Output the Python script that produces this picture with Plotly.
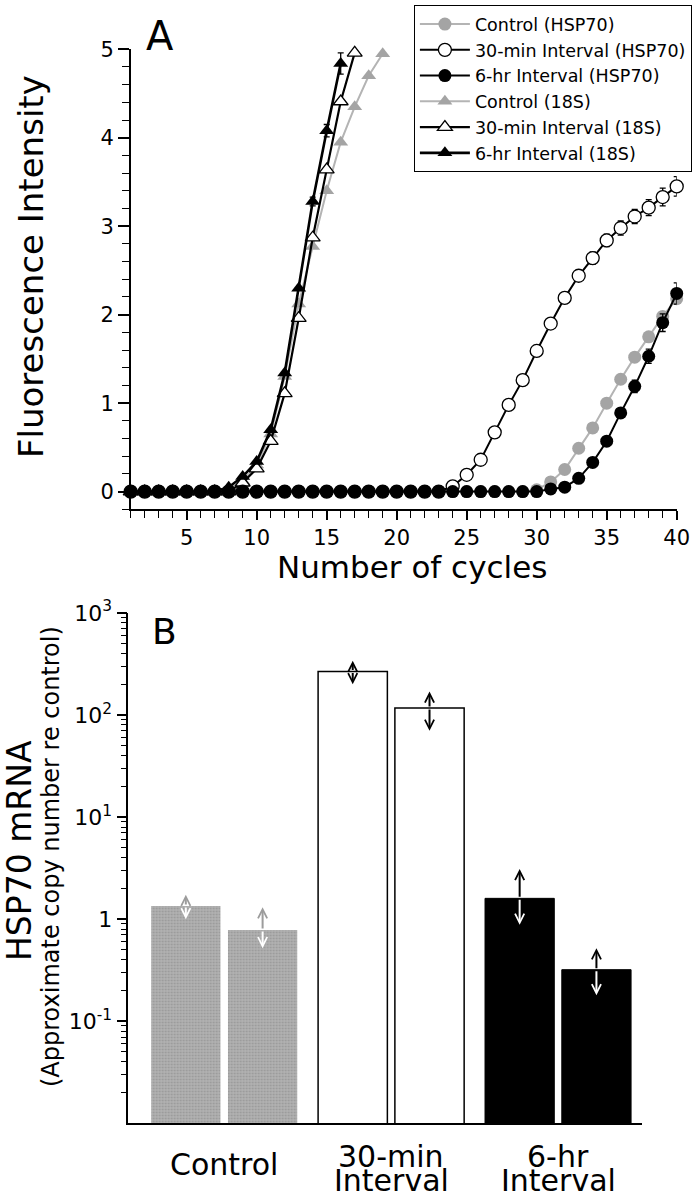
import math
import plotly.graph_objects as go

# ---------------- Panel A data (fluorescence vs cycle) ----------------
cycles = [1, 2, 3, 4, 5, 6, 7, 8, 9, 10, 11, 12, 13, 14, 15, 16, 17, 18, 19, 20,
          21, 22, 23, 24, 25, 26, 27, 28, 29, 30, 31, 32, 33, 34, 35, 36, 37, 38, 39, 40]

ctrl_hsp70 = [0.00, 0.00, 0.00, 0.00, 0.00, 0.00, 0.00, 0.00, 0.00, 0.00,
              0.00, 0.00, 0.00, 0.00, 0.00, 0.00, 0.00, 0.00, 0.00, 0.00,
              0.00, 0.00, 0.00, 0.00, 0.00, 0.00, 0.00, 0.00, 0.00, 0.02,
              0.11, 0.25, 0.49, 0.72, 1.00, 1.27, 1.52, 1.75, 1.98, 2.18]
min30_hsp70 = [0.00, 0.00, 0.00, 0.00, 0.00, 0.00, 0.00, 0.00, 0.00, 0.00,
               0.00, 0.00, 0.00, 0.00, 0.00, 0.00, 0.00, 0.00, 0.00, 0.00,
               0.00, 0.00, 0.00, 0.06, 0.19, 0.36, 0.67, 0.98, 1.26, 1.59,
               1.90, 2.19, 2.44, 2.64, 2.84, 2.98, 3.11, 3.21, 3.33, 3.45]
min30_hsp70_err = [0, 0, 0, 0, 0, 0, 0, 0, 0, 0,
                   0, 0, 0, 0, 0, 0, 0, 0, 0, 0,
                   0, 0, 0, 0, 0, 0, 0, 0, 0, 0.03,
                   0.04, 0.05, 0.06, 0.07, 0.07, 0.08, 0.08, 0.09, 0.10, 0.11]
hr6_hsp70 = [0.00, 0.00, 0.00, 0.00, 0.00, 0.00, 0.00, 0.00, 0.00, 0.00,
             0.00, 0.00, 0.00, 0.00, 0.00, 0.00, 0.00, 0.00, 0.00, 0.00,
             0.00, 0.00, 0.00, 0.00, 0.00, 0.00, 0.00, 0.00, 0.00, 0.00,
             0.03, 0.05, 0.15, 0.33, 0.57, 0.89, 1.19, 1.53, 1.91, 2.24]
hr6_hsp70_err = [0, 0, 0, 0, 0, 0, 0, 0, 0, 0,
                 0, 0, 0, 0, 0, 0, 0, 0, 0, 0,
                 0, 0, 0, 0, 0, 0, 0, 0, 0, 0,
                 0, 0, 0, 0, 0.03, 0.05, 0.07, 0.08, 0.10, 0.12]

ctrl_18s = [0.00, 0.00, 0.00, 0.00, 0.00, 0.00, 0.00, 0.03, 0.12, 0.30,
            0.65, 1.30, 2.12, 2.77, 3.40, 3.95, 4.35, 4.70, 4.95]
min30_18s = [0.00, 0.00, 0.00, 0.00, 0.00, 0.00, 0.00, 0.00, 0.10, 0.26,
             0.57, 1.11, 1.96, 2.87, 3.64, 4.41, 4.96]
hr6_18s = [0.00, 0.00, 0.00, 0.00, 0.00, 0.00, 0.00, 0.05, 0.17, 0.34,
           0.70, 1.34, 2.30, 3.28, 4.08, 4.84]
hr6_18s_err = [0, 0, 0, 0, 0, 0, 0, 0, 0, 0,
               0, 0, 0, 0.05, 0.07, 0.12]

a_xticks = [5, 10, 15, 20, 25, 30, 35, 40]
a_yticks = [0, 1, 2, 3, 4, 5]

# ---------------- Panel B data (HSP70 mRNA, log scale) ----------------
groups = ["Control", "30-min Interval", "6-hr Interval"]
group_line1 = ["Control", "30-min", "6-hr"]
group_line2 = ["", "Interval", "Interval"]
bar_values = [[1.35, 0.785], [267, 117], [1.6, 0.32]]
bar_upper = [[1.74, 1.31], [340, 170], [3.1, 0.52]]
bar_lower = [[1.0, 0.52], [200, 70], [0.88, 0.18]]
b_tickvals = [0.1, 1, 10, 100, 1000]
b_ticktext = ["10<sup>-1</sup>", "1", "10<sup>1</sup>", "10<sup>2</sup>", "10<sup>3</sup>"]
b_minor = [m * 10 ** e for e in range(-2, 3) for m in range(2, 10)]

FONT = "DejaVu Sans"
W, H = 698, 1200
GRAY = "#a4a4a4"

def px_x(p):
    return p / W

def px_y(p):
    return 1 - p / H

fig = go.Figure()

common_err = dict(type="data", thickness=1.3, width=3)

# 18S series first
fig.add_trace(go.Scatter(
    x=cycles[:len(ctrl_18s)], y=ctrl_18s, name="Control (18S)", legendrank=4,
    mode="lines+markers", cliponaxis=False,
    line=dict(color="#b4b4b4", width=2),
    marker=dict(symbol="triangle-up", size=13, color=GRAY, line=dict(width=0)),
    xaxis="x", yaxis="y"))
fig.add_trace(go.Scatter(
    x=cycles[:len(min30_18s)], y=min30_18s, name="30-min Interval (18S)", legendrank=5,
    mode="lines+markers", cliponaxis=False,
    line=dict(color="black", width=2.2),
    marker=dict(symbol="triangle-up", size=13, color="white", line=dict(color="black", width=1.3)),
    xaxis="x", yaxis="y"))
fig.add_trace(go.Scatter(
    x=cycles[:len(hr6_18s)], y=hr6_18s, name="6-hr Interval (18S)", legendrank=6,
    mode="lines+markers", cliponaxis=False,
    line=dict(color="black", width=2.6),
    marker=dict(symbol="triangle-up", size=13, color="black", line=dict(width=0)),
    error_y=dict(array=hr6_18s_err, color="black", **common_err),
    xaxis="x", yaxis="y"))
# HSP70 series
fig.add_trace(go.Scatter(
    x=cycles, y=ctrl_hsp70, name="Control (HSP70)", legendrank=1,
    mode="lines+markers", cliponaxis=False,
    line=dict(color="#b4b4b4", width=2),
    marker=dict(symbol="circle", size=13, color=GRAY, line=dict(width=0)),
    xaxis="x", yaxis="y"))
fig.add_trace(go.Scatter(
    x=cycles, y=min30_hsp70, name="30-min Interval (HSP70)", legendrank=2,
    mode="lines+markers", cliponaxis=False,
    line=dict(color="black", width=2),
    marker=dict(symbol="circle", size=13, color="white", line=dict(color="black", width=1.3)),
    error_y=dict(array=min30_hsp70_err, color="black", **common_err),
    xaxis="x", yaxis="y"))
fig.add_trace(go.Scatter(
    x=cycles, y=hr6_hsp70, name="6-hr Interval (HSP70)", legendrank=3,
    mode="lines+markers", cliponaxis=False,
    line=dict(color="black", width=2),
    marker=dict(symbol="circle", size=13, color="black", line=dict(width=0)),
    error_y=dict(array=hr6_hsp70_err, color="black", **common_err),
    xaxis="x", yaxis="y"))

# ---------------- Panel B bars ----------------
OFF = 0.23
BW = 0.415
bar_styles = [
    dict(color=GRAY, line=dict(width=0),
         pattern=dict(shape=".", bgcolor="#b2b2b2", fgcolor="#7c7c7c", size=3, solidity=0.3)),
    dict(color="white", line=dict(color="black", width=1.5)),
    dict(color="black", line=dict(color="black", width=1)),
]
arrow_out = ["#9c9c9c", "black", "black"]
arrow_in = ["white", "black", "white"]

annotations = []
for gi, g in enumerate(groups):
    xs = [gi - OFF, gi + OFF]
    fig.add_trace(go.Bar(
        x=xs, y=bar_values[gi], width=BW, name=g, showlegend=False,
        marker=bar_styles[gi], xaxis="x2", yaxis="y2"))
    for k in range(2):
        v = bar_values[gi][k]
        for end, col in ((bar_upper[gi][k], arrow_out[gi]), (bar_lower[gi][k], arrow_in[gi])):
            annotations.append(dict(
                x=xs[k], y=math.log10(end), ax=xs[k], ay=math.log10(v),
                xref="x2", yref="y2", axref="x2", ayref="y2",
                text="", showarrow=True, arrowhead=5, arrowsize=0.9,
                arrowwidth=2, arrowcolor=col))
    annotations.append(dict(
        x=gi, y=px_y(1164 if group_line2[gi] == "" else 1156), xref="x2", yref="paper",
        text=group_line1[gi], showarrow=False, xanchor="center", yanchor="middle",
        font=dict(family=FONT, size=30, color="black")))
    if group_line2[gi]:
        annotations.append(dict(
            x=gi, y=px_y(1180), xref="x2", yref="paper",
            text=group_line2[gi], showarrow=False, xanchor="center", yanchor="middle",
            font=dict(family=FONT, size=30, color="black")))

# titles and panel letters
annotations += [
    dict(x=px_x(144), y=px_y(36), xref="paper", yref="paper", text="A", showarrow=False,
         xanchor="left", yanchor="middle", font=dict(family=FONT, size=40, color="black")),
    dict(x=px_x(150), y=px_y(631), xref="paper", yref="paper", text="B", showarrow=False,
         xanchor="left", yanchor="middle", font=dict(family=FONT, size=36, color="black")),
    dict(x=px_x(412), y=px_y(567), xref="paper", yref="paper", text="Number of cycles",
         showarrow=False, xanchor="center", yanchor="middle",
         font=dict(family=FONT, size=31, color="black")),
    dict(x=px_x(31), y=px_y(267), xref="paper", yref="paper", text="Fluorescence Intensity",
         showarrow=False, textangle=-90, xanchor="center", yanchor="middle",
         font=dict(family=FONT, size=34, color="black")),
    dict(x=px_x(20), y=px_y(851), xref="paper", yref="paper", text="HSP70 mRNA",
         showarrow=False, textangle=-90, xanchor="center", yanchor="middle",
         font=dict(family=FONT, size=33, color="black")),
    dict(x=px_x(51), y=px_y(857), xref="paper", yref="paper",
         text="(Approximate copy number re control)",
         showarrow=False, textangle=-90, xanchor="center", yanchor="middle",
         font=dict(family=FONT, size=24, color="black")),
]

axis_common = dict(showgrid=False, zeroline=False, showline=True, linecolor="black",
                   linewidth=1.5, tickcolor="black", tickwidth=1.5, automargin=False,
                   tickfont=dict(family=FONT, size=21, color="black"))

fig.update_layout(
    width=W, height=H,
    margin=dict(l=0, r=0, t=0, b=0, autoexpand=False),
    paper_bgcolor="white", plot_bgcolor="white",
    font=dict(family=FONT, color="black"),
    barmode="overlay",
    xaxis=dict(domain=[px_x(130.7), px_x(676.7)], range=[1, 40], anchor="y",
               tickvals=a_xticks, ticks="outside", ticklen=9,
               minor=dict(dtick=1, tick0=0, ticks="outside", ticklen=7, tickwidth=1.2,
                          tickcolor="black"),
               **axis_common),
    yaxis=dict(domain=[px_y(509.3), px_y(49.3)], range=[-0.2, 5], anchor="x",
               tickvals=a_yticks, ticks="outside", ticklen=11,
               minor=dict(dtick=0.2, tick0=0, ticks="outside", ticklen=7, tickwidth=1.2,
                          tickcolor="black"),
               **axis_common),
    xaxis2=dict(domain=[px_x(128.3), px_x(642)], range=[-0.5746, 2.503], anchor="y2",
                showticklabels=False, ticks="", showgrid=False, zeroline=False,
                showline=True, linecolor="black", linewidth=1.5, automargin=False),
    yaxis2=dict(type="log", domain=[px_y(1123.3), px_y(613)], range=[-2, 3], anchor="x2",
                tickmode="array", tickvals=b_tickvals, ticktext=b_ticktext,
                ticks="outside", ticklen=10, automargin=False,
                minor=dict(tickmode="array", tickvals=b_minor, ticks="outside", ticklen=6,
                           tickwidth=1.2, tickcolor="black"),
                showgrid=False, zeroline=False, showline=True, linecolor="black",
                linewidth=1.5, tickcolor="black", tickwidth=1.5,
                tickfont=dict(family=FONT, size=22, color="black")),
    legend=dict(x=px_x(691.7), y=px_y(5), xanchor="right", yanchor="top",
                bgcolor="white", bordercolor="black", borderwidth=1.2,
                font=dict(family=FONT, size=17.5, color="black"),
                tracegroupgap=0, itemwidth=50),
    annotations=annotations,
    showlegend=True,
)

fig.write_html("out.html", config={"displayModeBar": False},
               post_script="document.body.style.margin='0px';")
